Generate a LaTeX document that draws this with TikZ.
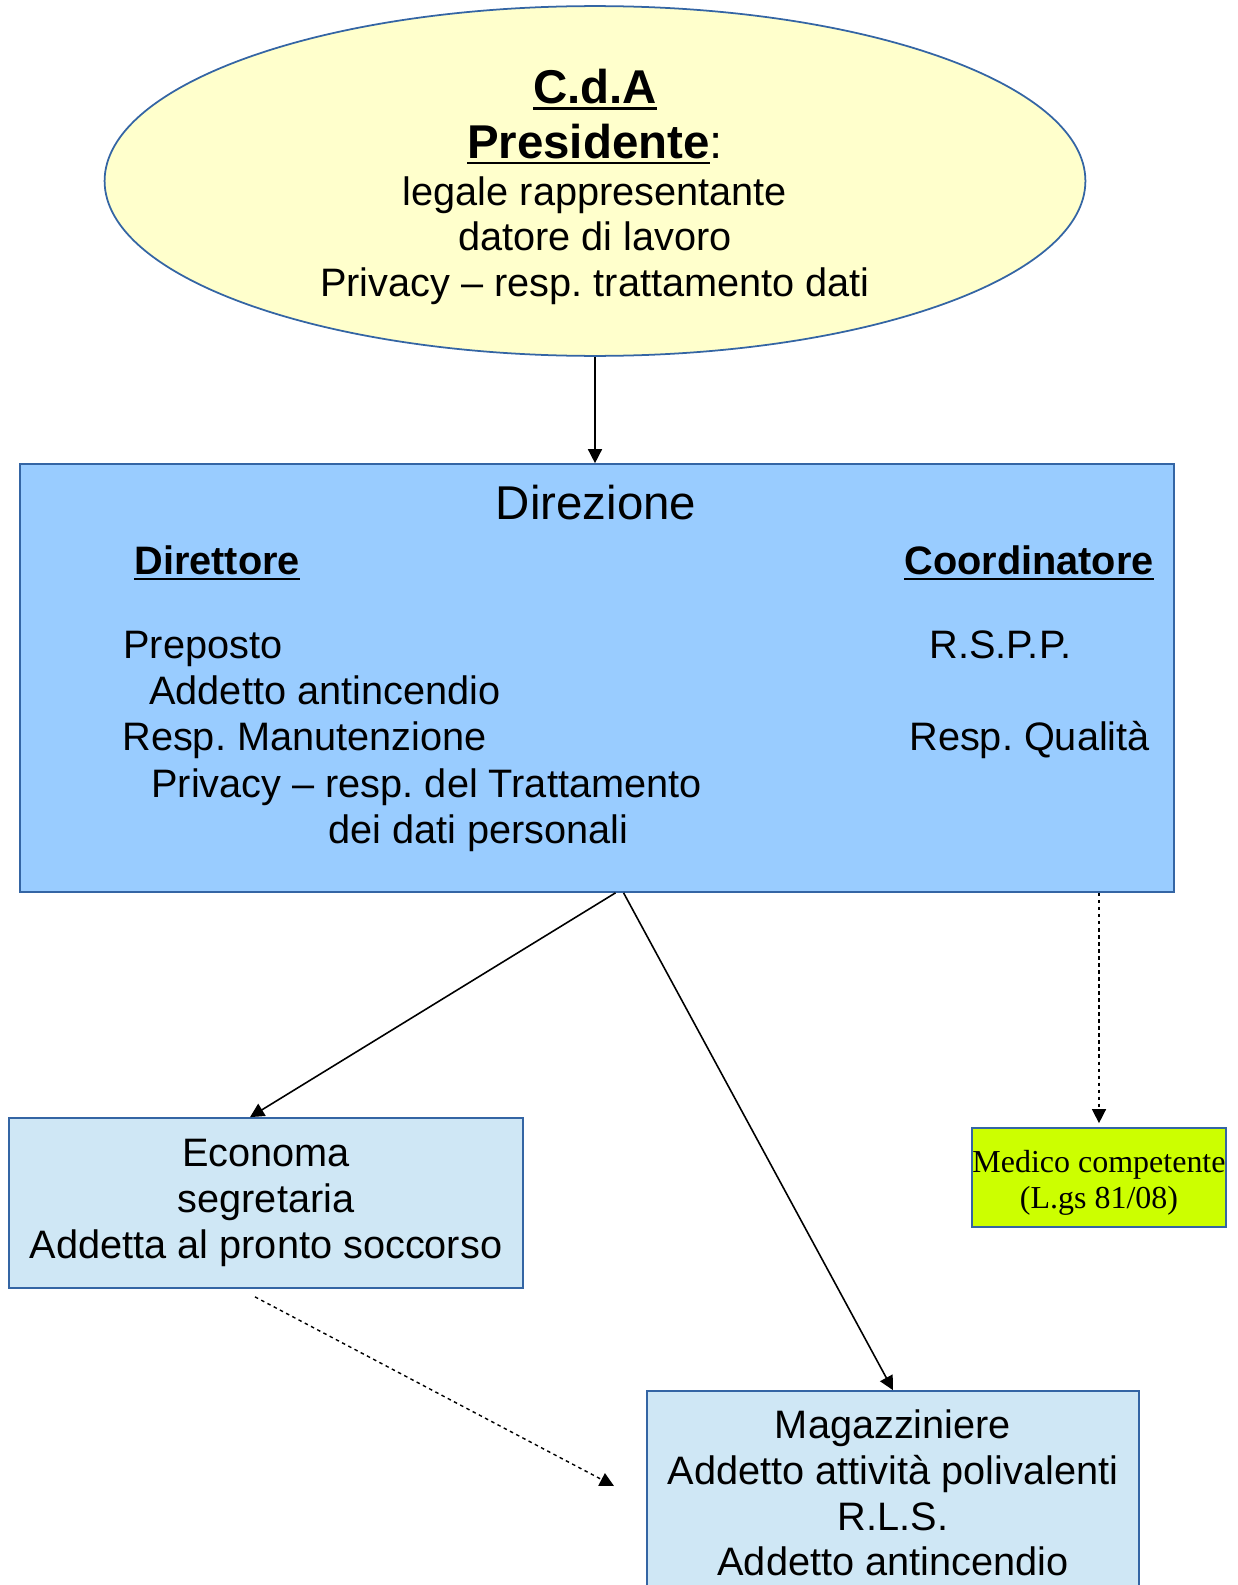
\documentclass[tikz,border=0pt]{standalone}
\usepackage{fontspec}
\setmainfont{Liberation Sans}
\newfontfamily\serifrm{Liberation Serif}
\newcommand\sotto[1]{\setbox0\hbox{#1}\rlap{\vrule height -2pt depth 3.2pt width \wd0}\box0}
\frenchspacing
\usetikzlibrary{arrows.meta,shapes.geometric,calc}
\definecolor{bordo}{HTML}{3465A4}
\definecolor{giallino}{HTML}{FFFFCC}
\definecolor{azzurro}{HTML}{99CCFF}
\definecolor{celeste}{HTML}{CFE7F5}
\definecolor{verdelime}{HTML}{CCFF00}
\tikzset{
  testo/.style={font=\fontsize{22.6}{26}\selectfont, inner sep=0pt},
  grande/.style={font=\fontsize{27}{31}\selectfont},
  grassetto/.style={font=\fontsize{22.6}{26}\selectfont\bfseries},
  casella/.style={draw=bordo, line width=1pt, rectangle, align=center},
  freccia/.style={-{Triangle[length=8pt,width=8pt]}, line width=0.9pt},
  punteggiata/.style={freccia, dash pattern=on 2pt off 2pt, line width=0.8pt}
}
\begin{document}
\begin{tikzpicture}[x=0.02cm,y=-0.02cm]
\useasboundingbox (0,0) rectangle (1237,1585);
\node[ellipse, draw=bordo, fill=giallino, line width=1pt, minimum width=19.62cm, minimum height=6.92cm, testo, align=center] (cda) at (595,181)
  {\rule{0pt}{26.5pt}{\fontsize{27}{31}\selectfont\bfseries\sotto{C.d.A}}\\[5pt]
   {\fontsize{27}{31}\selectfont\bfseries\sotto{Presidente}\mdseries:}\\[0.6pt]
   legale rappresentante\\
   datore di lavoro\\
   Privacy -- resp. trattamento dati};

\node[casella, fill=azzurro, minimum width=23.08cm, minimum height=8.56cm] (dir) at (597,678) {};
\node[testo, grande, anchor=base] (dirtit) at (596,519) {Direzione};
\node[testo, grassetto, anchor=base west] (direttore) at (134,574) {\sotto{Direttore}};
\node[testo, anchor=base west] (prep) at (123,658) {Preposto};
\node[testo, anchor=base west] (antinc) at (149,704) {Addetto antincendio};
\node[testo, anchor=base west] (manut) at (122,750) {Resp. Manutenzione};
\node[testo, anchor=base west] (priv) at (151,797) {Privacy -- resp. del Trattamento};
\node[testo, anchor=base west] (datipers) at (328,843) {dei dati personali};
\node[testo, grassetto, anchor=base west] (coord) at (904,574) {\sotto{Coordinatore}};
\node[testo, anchor=base west] (rspp) at (929,658) {R.S.P.P.};
\node[testo, anchor=base west] (qualita) at (909,750) {Resp. Qualità};

\node[casella, testo, fill=celeste, minimum width=10.28cm, minimum height=3.4cm] (econ) at (266,1203)
  {Economa\\segretaria\\Addetta al pronto soccorso};
\node[casella, testo, fill=celeste, minimum width=9.84cm, minimum height=4.08cm] (mag) at (893,1493)
  {Magazziniere\\Addetto attività polivalenti\\R.L.S.\\Addetto antincendio};
\node[casella, fill=verdelime, inner sep=0pt, minimum width=5.08cm, minimum height=1.98cm, font=\serifrm\fontsize{18.2}{20.6}\selectfont] (med) at (1099,1177.5)
  {\rule{0pt}{19pt}Medico competente\\(L.gs 81/08)};

\draw[freccia] (cda.south) -- (cda.south |- dir.north);
\draw[freccia] ($(dir.south west)!0.516!(dir.south east)$) -- ($(econ.north west)!0.469!(econ.north east)$);
\draw[freccia] ($(dir.south west)!0.523!(dir.south east)$) -- (mag.north);
\draw[punteggiata] (med.north |- dir.south) -- ([yshift=0.08cm]med.north);
\coordinate (puntafine) at (614,1486);
\draw[punteggiata] ([xshift=-0.22cm,yshift=-0.16cm]econ.south) -- (puntafine);
\end{tikzpicture}
\end{document}
